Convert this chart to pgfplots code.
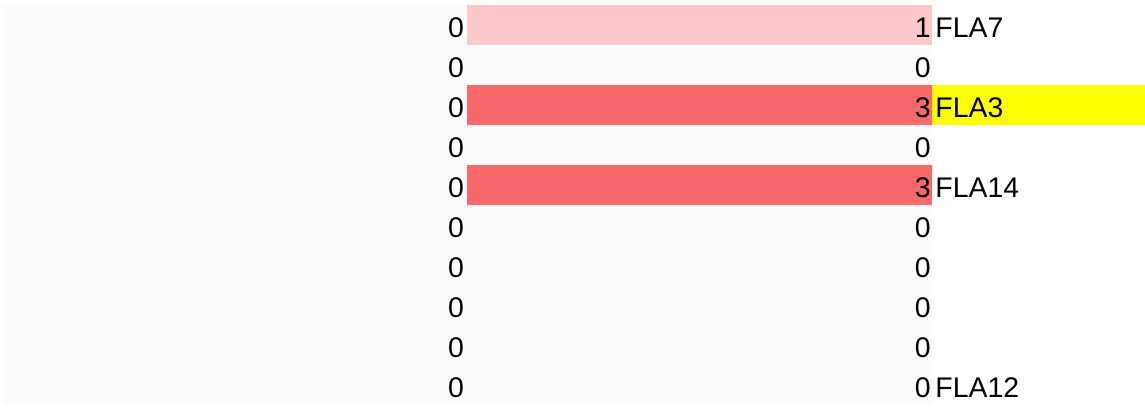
\documentclass[border=0pt]{standalone}
\usepackage{pgfplots}
\usepackage{pgfplotstable}
\pgfplotsset{compat=1.18}
\usepackage{fontspec}
\setmainfont{Liberation Sans}
\definecolor{bgc}{HTML}{FBFBFD}
\definecolor{barhi}{HTML}{F8696B}
\definecolor{barlo}{HTML}{FBC9CC}
\definecolor{hl}{HTML}{FFFF00}
\pgfplotstableread{
y v
0 1
1 0
2 3
3 0
4 3
5 0
6 0
7 0
8 0
9 0
}\vals
\pgfplotstableread{
y v
0 0
1 0
2 0
3 0
4 0
5 0
6 0
7 0
8 0
9 0
}\leftvals
\begin{document}
\begin{tikzpicture}[every node/.style={font=\fontsize{14.2}{16}\selectfont}]
\begin{axis}[
  name=ax,
  scale only axis,
  width=464.5pt, height=200pt,
  xmin=-2.9935, xmax=3,
  ymin=-0.5, ymax=9.5,
  y dir=reverse,
  axis background/.style={fill=bgc},
  axis line style={draw=none},
  ticks=none,
  clip=false,
]
% highlighted label cell
\fill[hl] (axis cs:3,1.5) rectangle (axis cs:4.374,2.5);
% cells filled by colour scale (value 1 light, value 3 strong)
\addplot[xbar, bar width=1, fill=barlo, draw=none] coordinates {(3,0)};
\addplot[xbar, bar width=1, fill=barhi, draw=none] coordinates {(3,2) (3,4)};
% right-hand values
\addplot[only marks, mark=none, point meta=explicit symbolic,
  nodes near coords,
  every node near coord/.style={anchor=east, inner sep=0.5pt, yshift=-1.4pt, text=black}]
  table[x expr=3, y=y, meta=v] {\vals};
% left-hand zeros
\addplot[only marks, mark=none, point meta=explicit symbolic,
  nodes near coords,
  every node near coord/.style={anchor=east, inner sep=1.3pt, yshift=-1.4pt, text=black}]
  table[x expr=0, y=y, meta=v] {\leftvals};
% names
\addplot[only marks, mark=none, point meta=explicit symbolic,
  nodes near coords,
  every node near coord/.style={anchor=west, inner sep=1.5pt, yshift=-1.4pt, text=black}]
  table[meta=n] {
x y n
3 0 FLA7
3 2 FLA3
3 4 FLA14
3 9 FLA12
};
\end{axis}
\path[use as bounding box] ([xshift=-1.5pt,yshift=-1pt]ax.south west) rectangle ([xshift=106.5pt,yshift=2.5pt]ax.north east);
\end{tikzpicture}
\end{document}
